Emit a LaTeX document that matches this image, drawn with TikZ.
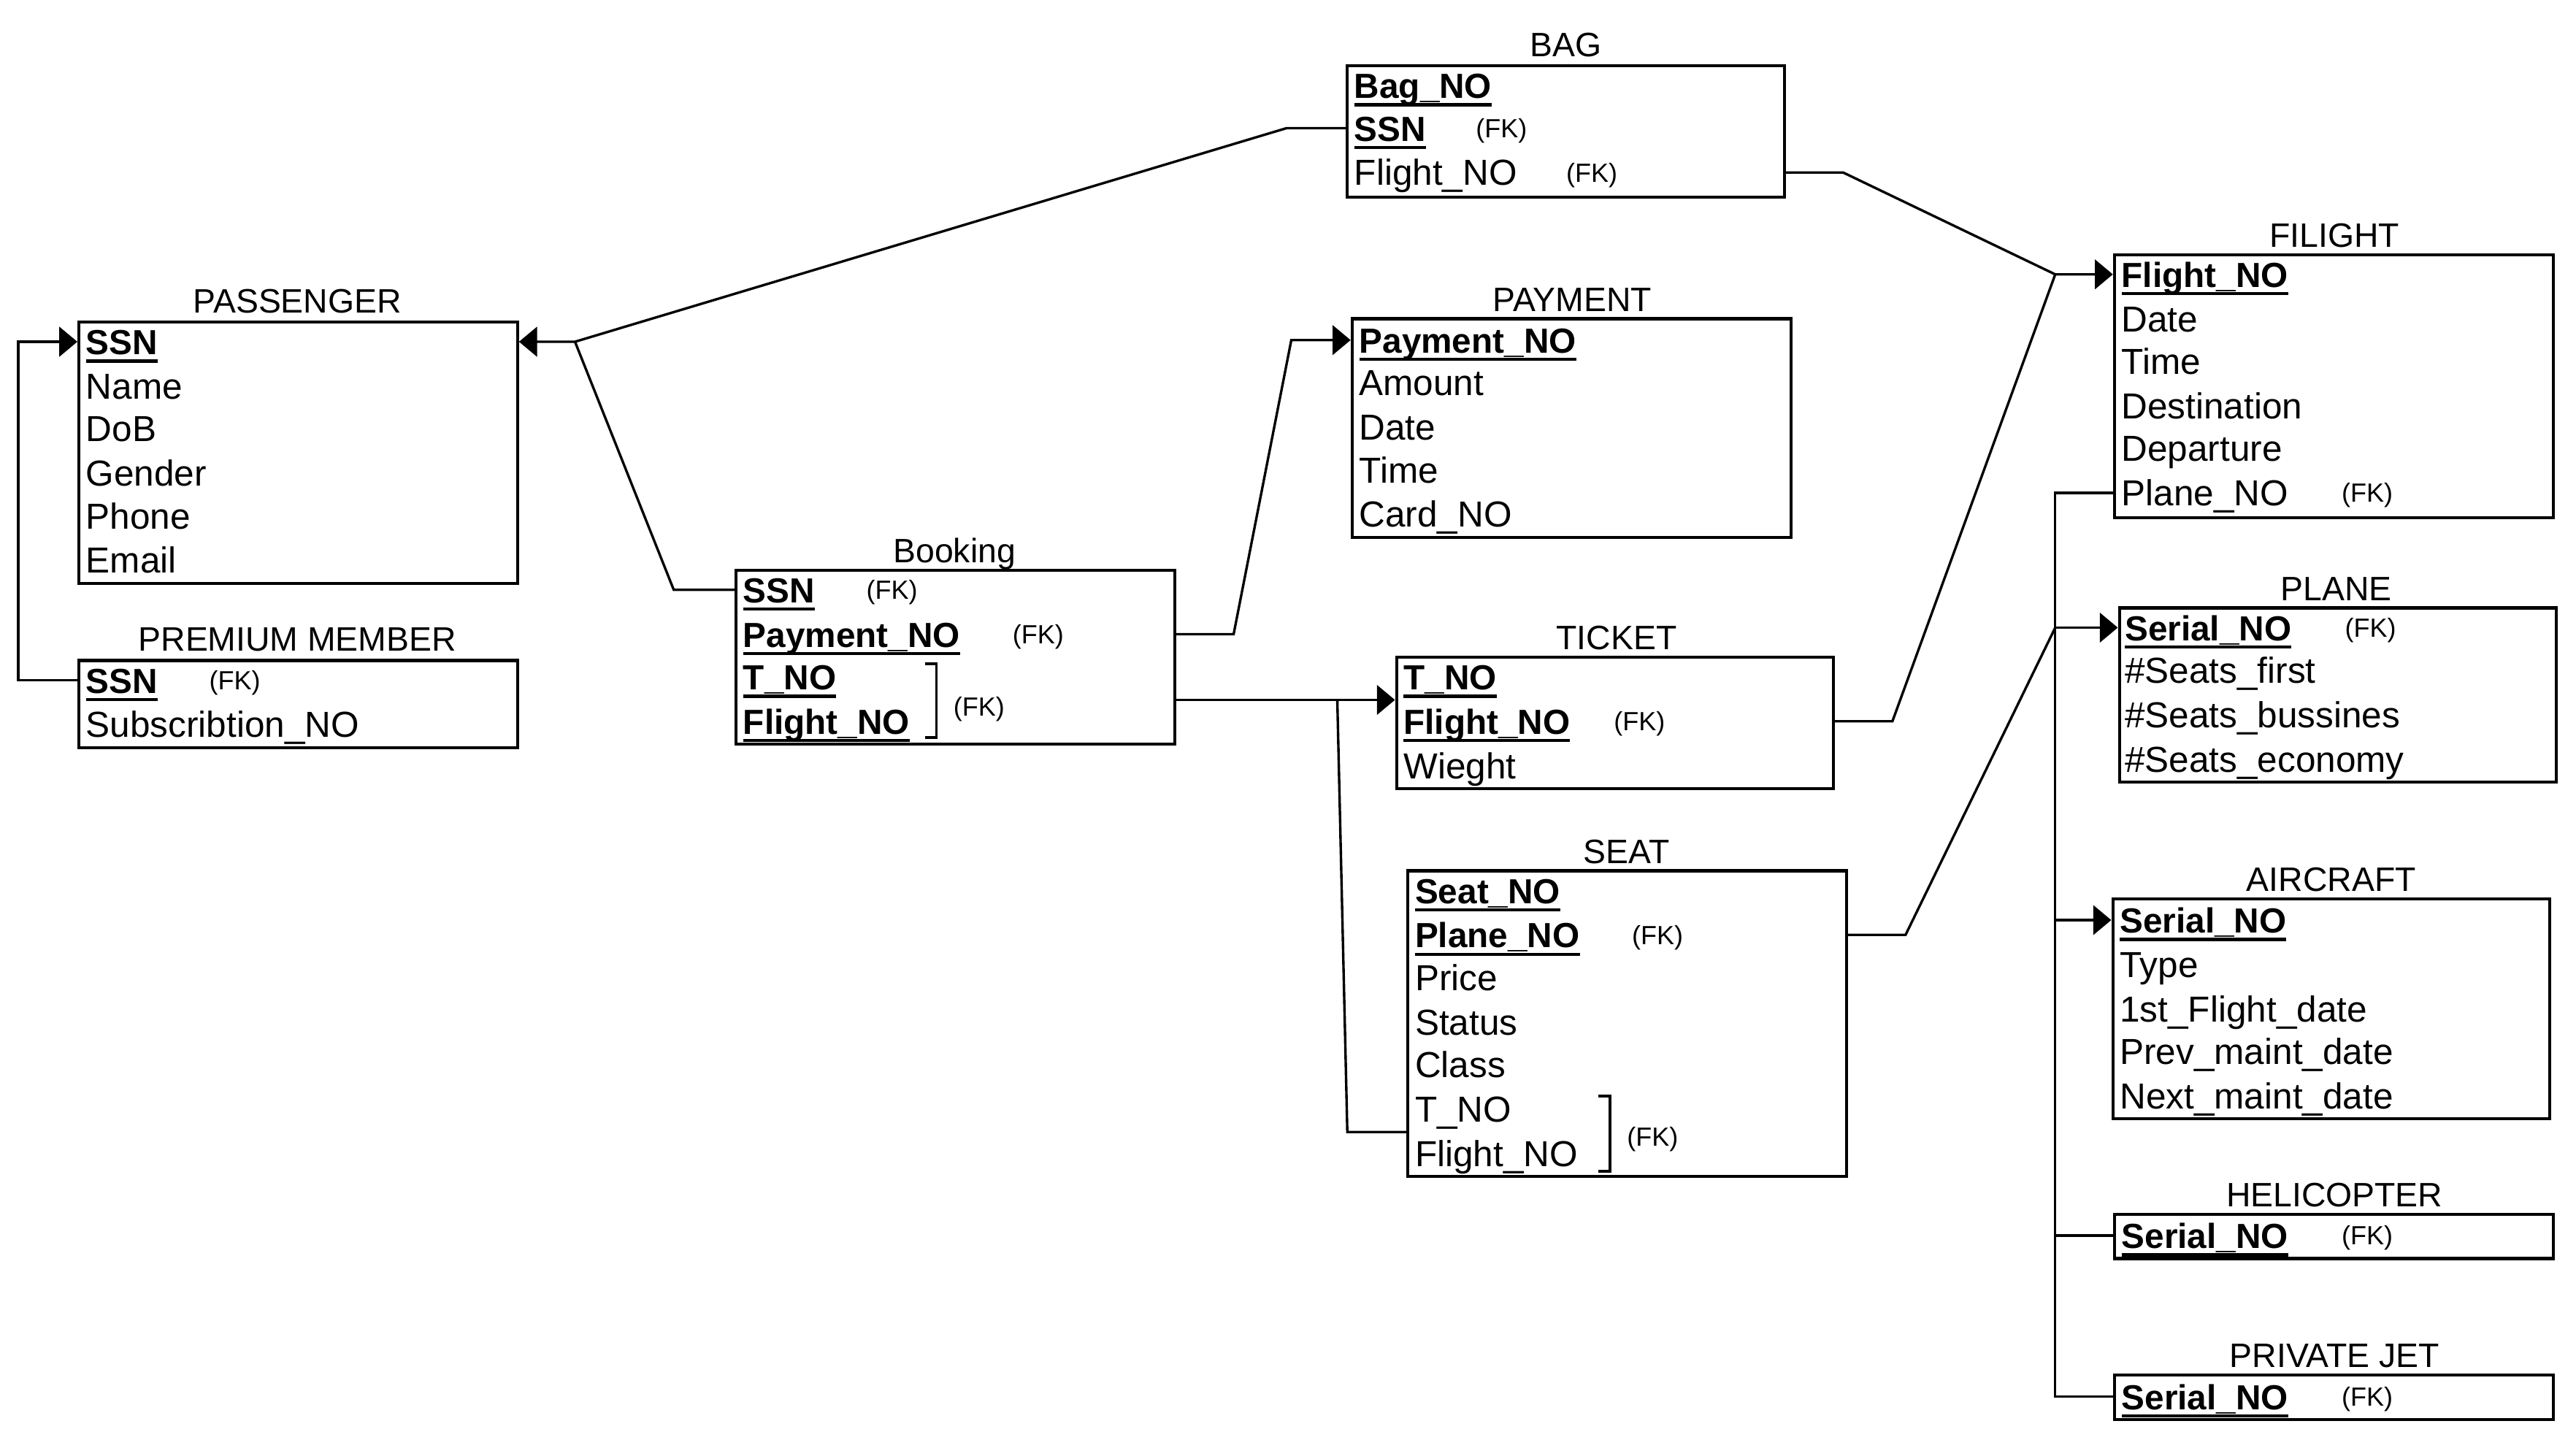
\documentclass[tikz,border=0pt]{standalone}
\usepackage{fontspec}
\setmainfont{Liberation Sans}
\usetikzlibrary{arrows.meta,fit}
\newsavebox\keybx
\newcommand\keyu[1]{\sbox\keybx{\fontsize{10.6}{13}\selectfont\bfseries #1}\rlap{\rule[-2.4pt]{\wd\keybx}{0.9pt}}\usebox\keybx}
\tikzset{
 ent/.style={draw, line width=0.9pt, inner sep=0pt},
 ttl/.style={font=\fontsize{10.3}{12}\selectfont, inner sep=0pt, text height=9pt, text depth=1.63pt},
 attr/.style={font=\fontsize{11}{13}\selectfont, inner sep=0pt, anchor=west, text height=10pt, text depth=2.12pt},
 fk/.style={font=\fontsize{8}{9}\selectfont, inner sep=0pt, anchor=west, text height=7.5pt, text depth=1.77pt},
 conn/.style={line width=0.75pt},
 arr/.style={-{Triangle[length=5.5pt,width=9pt]}},
 brk/.style={line width=0.8pt}
}
\begin{document}
\begin{tikzpicture}[x=0.5pt,y=-0.5pt]
\useasboundingbox (0,0) rectangle (1568,876.4);
% ---------------- entity boxes
\node[ent, fit={(48,196) (315,355)}] (passenger) {};
\node[ent, fit={(48,402) (315,455)}] (premium) {};
\node[ent, fit={(820,40) (1086,120)}] (bag) {};
\node[ent, fit={(823,194) (1090,327)}] (payment) {};
\node[ent, fit={(448,347) (715,453)}] (booking) {};
\node[ent, fit={(850,400) (1116,480)}] (ticket) {};
\node[ent, fit={(857,530) (1124,716)}] (seat) {};
\node[ent, fit={(1287,155) (1554,315)}] (filight) {};
\node[ent, fit={(1290,370) (1556,476)}] (plane) {};
\node[ent, fit={(1286,547) (1552,681)}] (aircraft) {};
\node[ent, fit={(1287,739) (1554,766)}] (helicopter) {};
\node[ent, fit={(1287,837) (1554,864)}] (privatejet) {};
% ---------------- titles
\node[ttl] (tPassenger) at (181,183) {PASSENGER};
\node[ttl] (tPremium) at (181,389) {PREMIUM MEMBER};
\node[ttl] (tBag) at (953,27) {BAG};
\node[ttl] (tPayment) at (957,182) {PAYMENT};
\node[ttl] (tBooking) at (581,335) {Booking};
\node[ttl] (tTicket) at (984,388) {TICKET};
\node[ttl] (tSeat) at (990,518) {SEAT};
\node[ttl] (tFilight) at (1421,143) {FILIGHT};
\node[ttl] (tPlane) at (1422,358) {PLANE};
\node[ttl] (tAircraft) at (1419,535) {AIRCRAFT};
\node[ttl] (tHeli) at (1421,727) {HELICOPTER};
\node[ttl] (tJet) at (1421,825) {PRIVATE JET};
% ---------------- PASSENGER
\node[attr] (pSSN) at (52,208) {\keyu{SSN}};
\node[attr] (pName) at (52,235) {Name};
\node[attr] (pDoB) at (52,261) {DoB};
\node[attr] (pGen) at (52,288) {Gender};
\node[attr] (pPh) at (52,314) {Phone};
\node[attr] (pEm) at (52,341) {Email};
% ---------------- PREMIUM MEMBER
\node[attr] (pmSSN) at (52,414) {\keyu{SSN}};
\node[fk] (pmFK) at (127,414) {(FK)};
\node[attr] (pmSub) at (52,441) {Subscribtion\_NO};
% ---------------- BAG
\node[attr] (bNO) at (824,52) {\keyu{Bag\_NO}};
\node[attr] (bSSN) at (824,78) {\keyu{SSN}};
\node[fk] (bSSNfk) at (898,78) {(FK)};
\node[attr] (bFl) at (824,105) {Flight\_NO};
\node[fk] (bFlfk) at (953,105) {(FK)};
% ---------------- PAYMENT
\node[attr] (payNO) at (827,207) {\keyu{Payment\_NO}};
\node[attr] (payAm) at (827,233) {Amount};
\node[attr] (payDa) at (827,260) {Date};
\node[attr] (payTi) at (827,286) {Time};
\node[attr] (payCa) at (827,313) {Card\_NO};
% ---------------- Booking
\node[attr] (bkSSN) at (452,359) {\keyu{SSN}};
\node[fk] (bkSSNfk) at (527,359) {(FK)};
\node[attr] (bkPay) at (452,386) {\keyu{Payment\_NO}};
\node[fk] (bkPayfk) at (616,386) {(FK)};
\node[attr] (bkT) at (452,412) {\keyu{T\_NO}};
\node[attr] (bkF) at (452,439) {\keyu{Flight\_NO}};
\node[fk] (bkTFfk) at (580,430) {(FK)};
\draw[brk] (563,404) -- (570,404) -- (570,449) -- (563,449);
% ---------------- TICKET
\node[attr] (tkT) at (854,412) {\keyu{T\_NO}};
\node[attr] (tkF) at (854,439) {\keyu{Flight\_NO}};
\node[fk] (tkFfk) at (982,439) {(FK)};
\node[attr] (tkW) at (854,466) {Wieght};
% ---------------- SEAT
\node[attr] (sNO) at (861,542) {\keyu{Seat\_NO}};
\node[attr] (sPl) at (861,569) {\keyu{Plane\_NO}};
\node[fk] (sPlfk) at (993,569) {(FK)};
\node[attr] (sPr) at (861,595) {Price};
\node[attr] (sSt) at (861,622) {Status};
\node[attr] (sCl) at (861,648) {Class};
\node[attr] (sT) at (861,675) {T\_NO};
\node[attr] (sF) at (861,702) {Flight\_NO};
\node[fk] (sTFfk) at (990,692) {(FK)};
\draw[brk] (973,667) -- (980,667) -- (980,713) -- (973,713);
% ---------------- FILIGHT
\node[attr] (fNO) at (1291,167) {\keyu{Flight\_NO}};
\node[attr] (fDa) at (1291,194) {Date};
\node[attr] (fTi) at (1291,220) {Time};
\node[attr] (fDe) at (1291,247) {Destination};
\node[attr] (fDp) at (1291,273) {Departure};
\node[attr] (fPl) at (1291,300) {Plane\_NO};
\node[fk] (fPlfk) at (1425,300) {(FK)};
% ---------------- PLANE
\node[attr] (plNO) at (1293,382) {\keyu{Serial\_NO}};
\node[fk] (plNOfk) at (1427,382) {(FK)};
\node[attr] (plS1) at (1293,408) {\#Seats\_first};
\node[attr] (plS2) at (1293,435) {\#Seats\_bussines};
\node[attr] (plS3) at (1293,462) {\#Seats\_economy};
% ---------------- AIRCRAFT
\node[attr] (acNO) at (1290,560) {\keyu{Serial\_NO}};
\node[attr] (acTy) at (1290,587) {Type};
\node[attr] (acFi) at (1290,614) {1st\_Flight\_date};
\node[attr] (acPr) at (1290,640) {Prev\_maint\_date};
\node[attr] (acNx) at (1290,667) {Next\_maint\_date};
% ---------------- HELICOPTER / PRIVATE JET
\node[attr] (hNO) at (1291,752) {\keyu{Serial\_NO}};
\node[fk] (hNOfk) at (1425,752) {(FK)};
\node[attr] (jNO) at (1291,850) {\keyu{Serial\_NO}};
\node[fk] (jNOfk) at (1425,850) {(FK)};
% ---------------- junctions
\coordinate (jP) at (350,208);
\coordinate (jPay) at (786,207);
\coordinate (jT) at (814,426);
\coordinate (jF) at (1251,167);
\coordinate (jPl) at (1251,382);
\coordinate (jAc) at (1251,560);
\coordinate (jHe) at (1251,752);
\coordinate (jJe) at (1251,850);
% ---------------- connectors
\draw[conn,arr] (premium.west |- pmSSN) -- ++(-36,0) |- (passenger.west |- pSSN);
\draw[conn,arr] (bag.west |- bSSN) -- ++(-36,0) -- (jP) -- (passenger.east |- pSSN);
\draw[conn] (booking.west |- bkSSN) -- ++(-37,0) -- (jP);
\draw[conn,arr] (booking.east |- bkPay) -- ++(35,0) -- (jPay) -- (payment.west |- payNO);
\draw[conn,arr] (booking.east |- jT) -- (ticket.west |- jT);
\draw[conn] (seat.west |- 0,689) -- ++(-36,0) -- (jT);
\draw[conn,arr] (ticket.east |- tkF) -- ++(35,0) -- (jF) -- (filight.west |- fNO);
\draw[conn] (bag.east |- bFl) -- ++(35,0) -- (jF);
\draw[conn] (filight.west |- fPl) -| (jJe) -- (privatejet.west |- jJe);
\draw[conn] (seat.east |- sPl) -- ++(35,0) -- (jPl);
\draw[conn,arr] (jPl) -- (plane.west |- jPl);
\draw[conn,arr] (jAc) -- (aircraft.west |- jAc);
\draw[conn] (jHe) -- (helicopter.west |- jHe);
\end{tikzpicture}
\end{document}
